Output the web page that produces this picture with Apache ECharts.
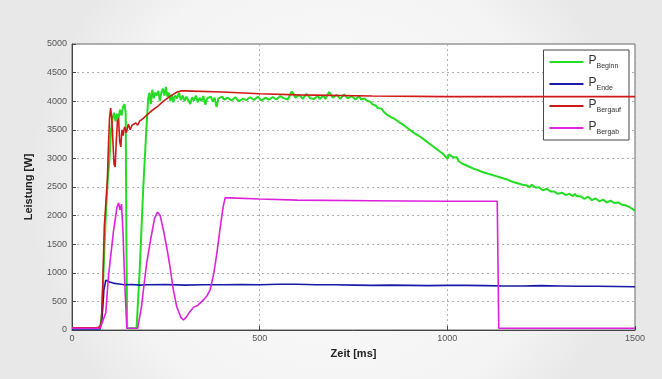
<!DOCTYPE html>
<html>
<head>
<meta charset="utf-8">
<script src="https://cdn.jsdelivr.net/npm/echarts@6/dist/echarts.min.js"></script>
<style>
html,body{margin:0;padding:0;}
#c{width:662px;height:379px;}
</style>
</head>
<body>
<div id="c"></div>
<script>
// Data: [time ms, power W]
const xTicks = [0, 500, 1000, 1500];
const seriesNames = ['Beginn', 'Ende', 'Bergauf', 'Bergab'];

const pBeginn = [
[0,30],[60,30],[75,50],[80,300],[85,1200],[90,2000],[95,2600],[100,3000],[104,3500],[108,3700],[112,3800],[116,3650],[120,3780],[124,3700],[128,3850],[132,3750],[136,3900],[140,3950],[143,3800],[145,1500],[147,30],[172,30],[180,1000],[190,2500],[198,3500],[203,4050],[206,4150],[210,3950],[214,4200],[218,4050],[222,4150],[226,4100],[230,4180],[234,4000],[238,4150],[242,4220],[246,4100],[250,4250],[254,4080],[258,4150],[262,4000],[266,4120],[270,3980],[275,4100],[280,4050],[285,4150],[290,4020],[295,4100],[300,4000],[305,4080],[310,4050],[315,3950],[320,4070],[325,4010],[330,4100],[335,3980],[340,4060],[345,4000],[350,4090],[355,3940],[360,4050],[365,4020],[370,4080],[375,3990],[380,4060],[385,3900],[390,4050],[395,4020],[400,4080],[405,4030],[410,4000],[415,4060],[420,4060],[425,4010],[430,4020],[435,4070],[440,4070],[445,4000],[450,3990],[455,4040],[460,4050],[465,4020],[470,4010],[475,4070],[480,4090],[485,4020],[490,4030],[495,4080],[500,4060],[505,4010],[510,4000],[515,4060],[520,4070],[525,4030],[530,4020],[535,4070],[540,4080],[545,4030],[550,4040],[555,4090],[560,4100],[565,4050],[570,4060],[575,4030],[580,4050],[585,4170],[590,4130],[595,4060],[600,4050],[605,4110],[610,4090],[615,4040],[620,4060],[625,4130],[630,4150],[635,4050],[640,4080],[645,4040],[650,4060],[655,4100],[660,4040],[665,4070],[670,4100],[675,4040],[680,4060],[685,4160],[690,4150],[695,4060],[700,4050],[705,4110],[710,4080],[715,4040],[720,4060],[725,4120],[730,4100],[735,4050],[740,4040],[745,4090],[750,4070],[755,4030],[760,4060],[765,4090],[770,4030],[775,4060],[780,4050],[785,4010],[790,4000],[795,3990],[800,3950],[805,3930],[810,3920],[815,3880],[820,3850],[825,3870],[830,3820],[835,3800],[840,3760],[845,3780],[850,3720],[855,3740],[860,3690],[865,3660],[870,3640],[875,3650],[880,3600],[885,3610],[890,3550],[895,3560],[900,3500],[905,3510],[910,3450],[915,3470],[920,3410],[925,3430],[930,3370],[935,3380],[940,3320],[945,3330],[950,3270],[955,3290],[960,3220],[965,3240],[970,3170],[975,3190],[980,3120],[985,3140],[990,3070],[995,3090],[1000,2990],[1005,3070],[1010,3060],[1015,3020],[1020,2990],[1025,3020],[1030,2950],[1035,2960],[1040,2910],[1045,2930],[1050,2880],[1055,2900],[1060,2850],[1065,2870],[1070,2820],[1075,2850],[1080,2800],[1085,2810],[1090,2770],[1095,2800],[1100,2750],[1105,2770],[1110,2730],[1115,2760],[1120,2710],[1125,2720],[1130,2690],[1135,2710],[1140,2670],[1145,2690],[1150,2650],[1155,2670],[1160,2630],[1165,2650],[1170,2600],[1175,2630],[1180,2580],[1185,2600],[1190,2560],[1195,2590],[1200,2540],[1205,2560],[1210,2530],[1215,2560],[1220,2500],[1225,2540],[1230,2510],[1235,2490],[1240,2460],[1245,2490],[1250,2460],[1255,2440],[1260,2430],[1265,2470],[1270,2460],[1275,2420],[1280,2400],[1285,2420],[1290,2410],[1295,2380],[1300,2380],[1305,2400],[1310,2390],[1315,2360],[1320,2350],[1325,2380],[1330,2360],[1335,2340],[1340,2380],[1345,2340],[1350,2310],[1355,2340],[1360,2320],[1365,2290],[1370,2290],[1375,2330],[1380,2320],[1385,2270],[1390,2260],[1395,2300],[1400,2290],[1405,2250],[1410,2250],[1415,2280],[1420,2260],[1425,2230],[1430,2230],[1435,2260],[1440,2260],[1445,2220],[1450,2210],[1455,2230],[1460,2210],[1465,2190],[1470,2200],[1475,2180],[1480,2180],[1485,2150],[1490,2130],[1495,2110],[1500,2080]
];

const pEnde = [
[0,20],[75,20],[80,200],[85,700],[90,870],[95,860],[100,840],[110,820],[120,810],[130,800],[140,790],[160,795],[180,785],[200,790],[250,795],[300,785],[350,790],[400,790],[450,795],[500,790],[550,800],[600,800],[650,790],[700,790],[750,785],[800,780],[850,785],[900,780],[950,775],[1000,780],[1050,780],[1100,775],[1150,770],[1200,770],[1250,775],[1300,770],[1350,765],[1400,765],[1450,760],[1500,755]
];

const pBergauf = [
[0,40],[70,40],[78,100],[82,800],[86,1800],[90,2200],[94,2600],[97,3200],[100,3700],[103,3880],[106,3700],[109,3300],[112,2900],[115,2850],[118,3300],[121,3650],[124,3700],[127,3300],[130,3200],[133,3500],[136,3400],[140,3550],[145,3450],[150,3600],[155,3500],[160,3580],[165,3550],[170,3620],[175,3580],[180,3650],[190,3700],[200,3760],[210,3820],[220,3870],[230,3920],[240,3980],[250,4030],[260,4080],[270,4120],[280,4160],[290,4180],[300,4180],[400,4160],[500,4130],[600,4110],[800,4090],[1000,4080],[1200,4080],[1500,4080]
];

const pBergab = [
[0,30],[75,30],[80,60],[90,300],[97,930],[105,1400],[110,1700],[115,1930],[120,2150],[124,2220],[128,2100],[132,2200],[136,1700],[139,1100],[142,600],[146,30],[175,30],[185,400],[192,800],[199,1170],[210,1600],[220,1950],[228,2060],[235,2000],[245,1700],[255,1350],[261,1110],[270,700],[279,410],[290,220],[297,175],[305,230],[312,300],[324,400],[335,430],[350,526],[360,600],[368,700],[378,1000],[386,1345],[395,1800],[403,2160],[408,2310],[420,2310],[500,2290],[600,2270],[800,2260],[1000,2250],[1133,2250],[1137,30],[1500,30]
];

const colors = ['#22dd22', '#1a1aa8', '#d01818', '#dd22dd'];
const allData = [pBeginn, pEnde, pBergauf, pBergab];

const chart = echarts.init(document.getElementById('c'));
chart.setOption({
  backgroundColor: {
    type: 'radial', x: 0.5, y: 0.5, r: 0.8,
    colorStops: [{offset: 0, color: '#fcfcfc'}, {offset: 0.75, color: '#f4f4f4'}, {offset: 1, color: '#e8e8e8'}]
  },
  animation: false,
  grid: {left: 72, right: 27, top: 44, bottom: 49, show: true, backgroundColor: '#ffffff', borderColor: '#666', borderWidth: 1},
  legend: {
    orient: 'vertical', right: 33, top: 50,
    backgroundColor: '#ffffff', borderColor: '#444', borderWidth: 1,
    padding: [4, 8, 4, 6], itemGap: 6, itemWidth: 34, itemHeight: 14,
    data: seriesNames.map(n => ({name: n, icon: 'path://M0,6L34,6L34,8L0,8Z'})),
    formatter: n => '{p|P}{s|' + n + '}',
    textStyle: {
      rich: {
        p: {fontSize: 12, color: '#333', fontFamily: 'Liberation Sans', verticalAlign: 'top', lineHeight: 14},
        s: {fontSize: 7, color: '#333', fontFamily: 'Liberation Sans', padding: [9, 0, 0, 0], lineHeight: 14}
      }
    }
  },
  xAxis: {
    type: 'value', min: 0, max: 1500, interval: 500,
    name: 'Zeit [ms]', nameLocation: 'middle', nameGap: 18,
    nameTextStyle: {fontWeight: 'bold', fontSize: 11, color: '#222', fontFamily: 'Liberation Sans'},
    axisLine: {lineStyle: {color: '#444'}},
    axisTick: {inside: true, length: 4, lineStyle: {color: '#444'}},
    axisLabel: {fontSize: 9, color: '#555', fontFamily: 'Liberation Sans', margin: 4, formatter: v => String(v)},
    splitLine: {show: true, lineStyle: {type: [2, 3], color: '#b0b0b0'}}
  },
  yAxis: {
    type: 'value', min: 0, max: 5000, interval: 500,
    name: 'Leistung [W]', nameLocation: 'middle', nameGap: 38, nameRotate: 90,
    nameTextStyle: {fontWeight: 'bold', fontSize: 11, color: '#222', fontFamily: 'Liberation Sans'},
    axisLine: {show: true, lineStyle: {color: '#444'}},
    axisTick: {show: true, inside: true, length: 4, lineStyle: {color: '#444'}},
    axisLabel: {fontSize: 9, color: '#555', fontFamily: 'Liberation Sans', margin: 5, formatter: v => String(v)},
    splitLine: {show: true, lineStyle: {type: [2, 3], color: '#b0b0b0'}}
  },
  series: seriesNames.map((n, i) => ({
    name: n, type: 'line', data: allData[i], showSymbol: false, symbol: 'none',
    color: colors[i], lineStyle: {width: i === 0 ? 2 : 1.6, color: colors[i]},
    z: [2, 3, 4, 5][i]
  }))
});
</script>
</body>
</html>
